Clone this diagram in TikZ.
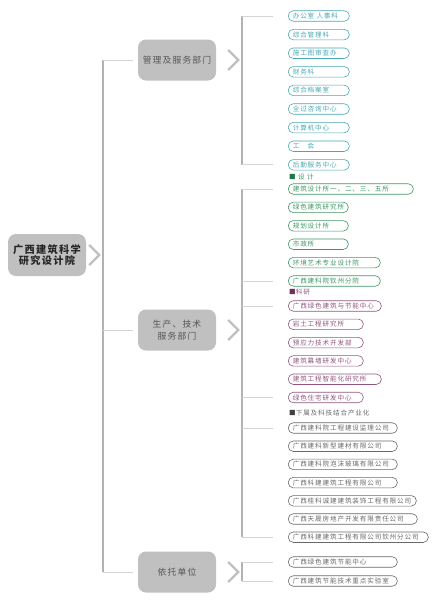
\documentclass[tikz,border=0pt]{standalone}
\usepackage{fontspec}
\setmainfont{Noto Sans CJK SC}[LetterSpace=13]
\usetikzlibrary{positioning}
\definecolor{GXBox}{RGB}{192,192,192}
\definecolor{GXText}{RGB}{85,85,85}
\definecolor{GXTrunk}{RGB}{178,178,178}
\definecolor{GXStub}{RGB}{212,212,212}
\definecolor{GXTeal}{RGB}{72,168,180}
\definecolor{GXGreen}{RGB}{62,150,100}
\definecolor{GXGreenD}{RGB}{30,120,70}
\definecolor{GXPurple}{RGB}{145,85,125}
\definecolor{GXPurpleD}{RGB}{115,45,95}
\definecolor{GXDark}{RGB}{105,105,105}
\newcommand\gxchev[2]{\draw[chev] ([shift={(#2,-10)}]#1.east) -- ++(10,10) -- ++(-10,10);}

\begin{document}
\begin{tikzpicture}[x=1pt,y=-1pt,
    root/.style={rounded corners=8pt, fill=GXBox, minimum width=78pt, minimum height=42pt, inner sep=0pt, align=center, text=black!85, font=\fontsize{10.2}{11.5}\selectfont\bfseries},
    dept/.style={rounded corners=8pt, fill=GXBox, minimum width=78pt, minimum height=41pt, inner sep=0pt, align=center, text=GXText, font=\fontsize{8.8}{12.5}\selectfont},
    unit/.style 2 args={draw=#1, text=#1, line width=0.6pt, rounded corners=5pt, minimum height=10.5pt, inner xsep=4.5pt, inner ysep=0pt, text width=#2, align=left, anchor=west, font=\fontsize{6.6}{7}\selectfont},
    tag/.style={anchor=west, inner sep=0pt, font=\fontsize{6.6}{7}\selectfont},
    trunk/.style={draw=GXTrunk, line width=2.2pt},
    stub/.style={draw=GXStub, line width=0.9pt},
    chev/.style={draw=GXBox, line width=2.2pt}
  ]
  \useasboundingbox (0,0) rectangle (445,600);
  \node[root] (gx) at (47,255) {广西建筑科学\\研究设计院};
  \node[dept] (m1) at (177,60) {管理及服务部门};
  \node[dept] (m2) at (177,330) {生产、技术\\服务部门};
  \node[dept] (m3) at (177,572) {依托单位};
  \gxchev{gx}{3}
  \foreach \n in {m1,m2,m3} {\gxchev{\n}{12}}
  \draw[trunk] (103,0 |- m1) -- (103,0 |- m3);
  \foreach \n in {m1,m2,m3} {\draw[stub, shorten >=5pt] (103,0 |- \n) -- (\n.west);}

  \foreach \t [count=\i] in {办公室 人事科, 综合管理科, 施工图审查办, 财务科, 综合档案室, 全过咨询中心, 计算机中心, 工　会, 后勤服务中心}
    {\node[unit={GXTeal}{52pt}] (g\i) at (288,{16+18.6*(\i-1)}) {\t};}

  \node[tag, text=GXGreen] (tdes) at (289,177) {\textcolor{GXGreenD}{■} 设 计};
  \foreach \t/\w [count=\i] in {建筑设计所一、二、三、五所/116pt, 绿色建筑研究所/51pt, 规划设计所/51pt, 市政所/51pt, 环境艺术专业设计院/83pt, 广西建科院钦州分院/83pt}
    {\node[unit={GXGreen}{\w}] (d\i) at (288,{189+18.4*(\i-1)}) {\t};}

  \node[tag, text=GXPurple] (tres) at (289,292) {\textcolor{GXPurpleD}{■}科研};
  \foreach \t/\w [count=\i] in {广西绿色建筑与节能中心/84pt, 岩土工程研究所/66pt, 预应力技术开发部/66pt, 建筑幕墙研发中心/66pt, 建筑工程智能化研究所/84pt, 绿色住宅研发中心/66pt}
    {\node[unit={GXPurple}{\w}] (k\i) at (288,{306+18.3*(\i-1)}) {\t};}

  \node[tag, text=GXDark] (tind) at (289,413) {\textcolor{black!75}{■}下属及科技结合产业化};
  \foreach \t/\w [count=\i] in {广西建科院工程建设监理公司/100pt, 广西建科新型建材有限公司/100pt, 广西建科院泡沫玻璃有限公司/100pt, 广西科建建筑工程有限公司/100pt, 广西桂科诚建建筑装饰工程有限公司/119pt, 广西天晟房地产开发有限责任公司/120pt, 广西科建建筑工程有限公司钦州分公司/131pt}
    {\node[unit={GXDark}{\w}] (c\i) at (288,{428+18.2*(\i-1)}) {\t};}

  \node[unit={GXDark}{100pt}] (y1) at (288,562) {广西绿色建筑节能中心};
  \node[unit={GXDark}{100pt}] (y2) at (288,581) {广西建筑节能技术重点实验室};

  \draw[trunk] (242,0 |- g1) -- (242,0 |- g9);
  \draw[trunk] (242,0 |- d1) -- (242,0 |- c7);
  \draw[trunk] (242,0 |- y1) -- (242,0 |- y2);
  \foreach \n in {g1,g9,d1,d6,k1,k6,c1,c7,y1,y2} {\draw[stub, shorten >=15pt] (242,0 |- \n) -- (\n.west);}
\end{tikzpicture}
\end{document}
